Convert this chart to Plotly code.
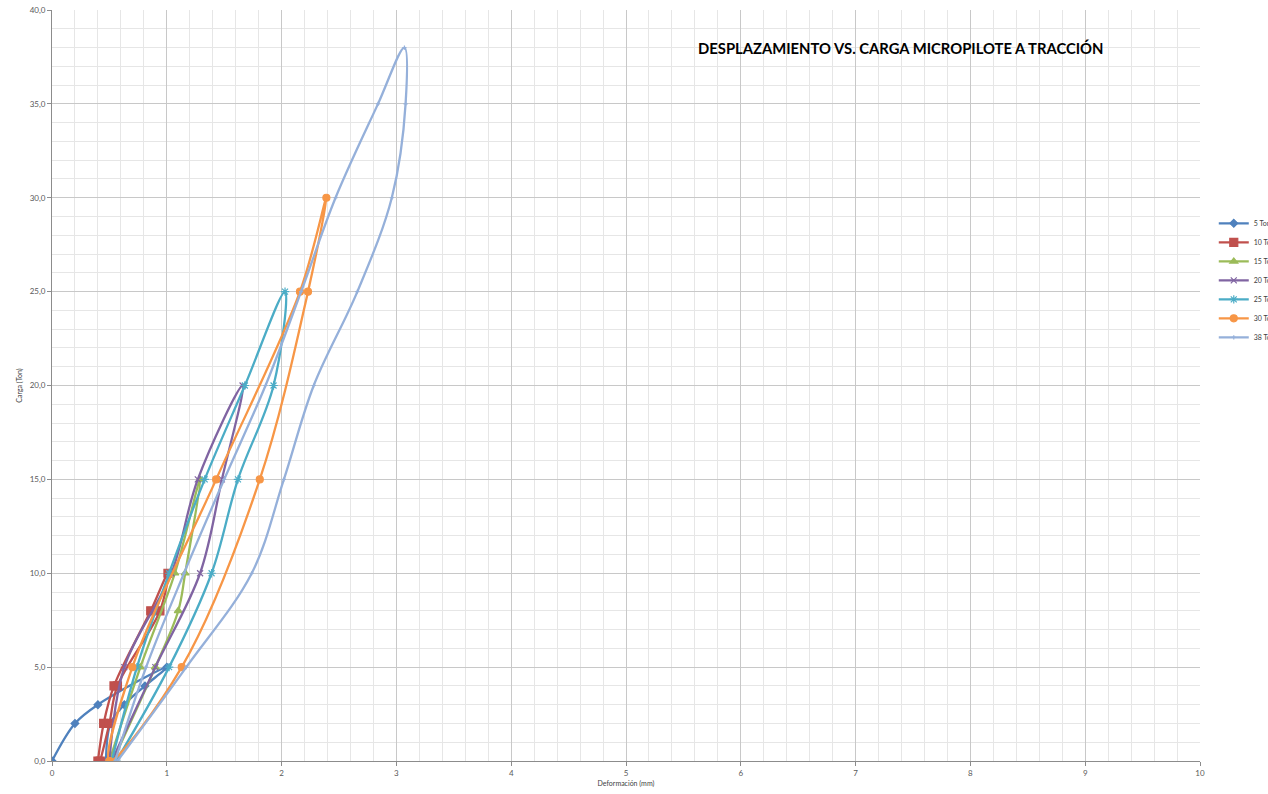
import plotly.graph_objects as go

# ---------------- data ----------------
series_names = ["5 Ton", "10 Ton", "15 Ton", "20 Ton", "25 Ton", "30 Ton", "38 Ton"]

x_5 = [0.00, 0.20, 0.40, 1.00, 0.81, 0.63, 0.51, 0.47]
y_5 = [0, 2, 3, 5, 4, 3, 2, 0]

x_10 = [0.40, 0.45, 0.54, 0.86, 1.01, 0.94, 0.57, 0.50, 0.42]
y_10 = [0, 2, 4, 8, 10, 8, 4, 2, 0]

x_15 = [0.50, 0.77, 1.07, 1.29, 1.16, 1.10, 0.90, 0.53]
y_15 = [0, 5, 10, 15, 10, 8, 5, 0]

x_20 = [0.50, 0.63, 1.04, 1.27, 1.66, 1.48, 1.29, 0.90, 0.52]
y_20 = [0, 5, 10, 15, 20, 15, 10, 5, 0]

x_25 = [0.52, 0.74, 1.02, 1.33, 1.68, 2.03, 1.93, 1.62, 1.39, 1.02, 0.56]
y_25 = [0, 5, 10, 15, 20, 25, 20, 15, 10, 5, 0]

x_30 = [0.50, 0.70, 1.43, 2.16, 2.39, 2.23, 1.81, 1.13, 0.50]
y_30 = [0, 5, 15, 25, 30, 25, 15, 5, 0]

x_38 = [0.55, 0.82, 1.15, 1.50, 1.86, 2.17, 2.47, 2.84, 3.07, 3.08, 2.96, 2.66, 2.28, 2.02, 1.74, 1.17, 0.57]
y_38 = [0, 5, 10, 15, 20, 25, 30, 35, 38, 35, 30, 25, 20, 15, 10, 5, 0]

x_data = [x_5, x_10, x_15, x_20, x_25, x_30, x_38]
y_data = [y_5, y_10, y_15, y_20, y_25, y_30, y_38]

colors = ["#4F81BD", "#C0504D", "#9BBB59", "#8064A2", "#4BACC6", "#F79646", "#95B0DA"]
symbols = ["diamond", "square", "triangle-up", "x-thin", "asterisk", "circle", "cross-thin"]
msizes = [6, 8, 7, 6, 7, 7, 3]

title_text = "DESPLAZAMIENTO VS. CARGA MICROPILOTE A TRACCIÓN"
x_title = "Deformación (mm)"
y_title = "Carga (Ton)"

# ---------------- figure ----------------
fig = go.Figure()
for name, xs, ys, c, s, ms in zip(series_names, x_data, y_data, colors, symbols, msizes):
    fig.add_trace(go.Scatter(
        x=xs, y=ys, name=name, mode="lines+markers",
        line=dict(color=c, width=2.3, shape="spline", smoothing=1.0),
        marker=dict(symbol=s, size=ms, color=c, line=dict(color=c, width=1.2)),
    ))

axis_font = dict(family="Lato, Open Sans, sans-serif", size=8, color="#595959")

fig.update_layout(
    width=1268, height=794,
    margin=dict(l=52, r=68, t=10, b=33, autoexpand=False),
    paper_bgcolor="white", plot_bgcolor="white",
    separators=", ",
    showlegend=True,
    legend=dict(
        x=1.012, y=0.64, xanchor="left", yanchor="middle",
        font=dict(family="Lato, sans-serif", size=7, color="#404040"),
        bgcolor="rgba(0,0,0,0)", itemwidth=30, tracegroupgap=0,
    ),
    annotations=[dict(
        text="<b>" + title_text + "</b>", xref="paper", yref="paper",
        x=0.7387, y=0.949, xanchor="center", yanchor="middle", showarrow=False,
        font=dict(family="Lato, sans-serif", size=14.8, color="#000000"),
    )],
)

fig.update_xaxes(
    range=[0, 10], dtick=1, tick0=0,
    showgrid=True, gridcolor="#C8C8C8", gridwidth=1,
    minor=dict(dtick=0.2, showgrid=True, gridcolor="#E6E6E6", gridwidth=1,
               ticks="", ticklen=0),
    showline=True, linecolor="#8C8C8C", linewidth=1,
    ticks="outside", ticklen=4, tickcolor="#8C8C8C",
    tickfont=axis_font, zeroline=False,
    title=dict(text=x_title, font=dict(family="Lato, sans-serif", size=7, color="#404040"), standoff=4),
)
fig.update_yaxes(
    range=[0, 40], dtick=5, tick0=0, tickformat=".1f",
    showgrid=True, gridcolor="#C8C8C8", gridwidth=1,
    minor=dict(dtick=1, showgrid=True, gridcolor="#E6E6E6", gridwidth=1,
               ticks="", ticklen=0),
    showline=True, linecolor="#8C8C8C", linewidth=1,
    ticks="outside", ticklen=4, tickcolor="#8C8C8C",
    tickfont=axis_font, zeroline=False,
    title=dict(text=y_title, font=dict(family="Lato, sans-serif", size=7, color="#404040"), standoff=6),
)

fig.write_html(
    "out.html",
    config={"displayModeBar": False},
    post_script="document.body.style.margin='0';document.body.style.overflow='hidden';",
)
